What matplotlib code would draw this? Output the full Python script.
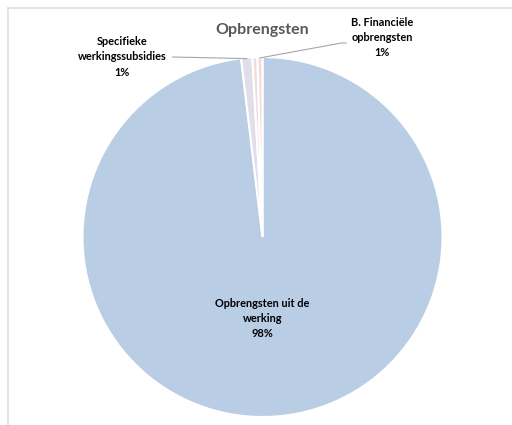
import numpy as np
import matplotlib
matplotlib.use("Agg")
import matplotlib.pyplot as plt
from matplotlib.lines import Line2D

TITLE = "Opbrengsten"
CATEGORIES = [
    "Opbrengsten uit de\nwerking",
    "Specifieke\nwerkingssubsidies",
    "Overige",
    "B. Financiële\nopbrengsten",
]
VALUES = [98.1, 1.0, 0.45, 0.45]
PCT_LABELS = ["98%", "1%", "", "1%"]
COLORS = ["#B9CDE5", "#E1DDEB", "#F2DCDB", "#F2DCDB"]

W, H = 512, 425
plt.rcParams["font.family"] = ["Lato", "DejaVu Sans"]

fig = plt.figure(figsize=(W / 100, H / 100), dpi=100)

# chart area border (only left and top visible)
fig.add_artist(Line2D([8 / W, 8 / W], [0, 1 - 8 / H], color="#E0E0E0", lw=1.2))
fig.add_artist(Line2D([8 / W, 1], [1 - 8 / H, 1 - 8 / H], color="#E0E0E0", lw=1.2))

cx, cy, r = 262.5, 237, 180
ax = fig.add_axes([(cx - r) / W, (H - cy - r) / H, 2 * r / W, 2 * r / H])
wedges, _ = ax.pie(
    VALUES,
    colors=COLORS,
    startangle=90,
    counterclock=False,
    radius=1,
    wedgeprops=dict(edgecolor="white", linewidth=1.5),
)
ax.set_xlim(-1, 1)
ax.set_ylim(-1, 1)
ax.set_aspect("equal")
ax.axis("off")


def edge_point(w, rad=1.0):
    ang = np.deg2rad((w.theta1 + w.theta2) / 2)
    return rad * np.cos(ang), rad * np.sin(ang)


fs = 7.9
ls = 1.45
# main slice label
ax.text(0, -0.455, f"{CATEGORIES[0]}\n{PCT_LABELS[0]}", ha="center", va="center",
        fontsize=fs, fontweight="bold", color="black", linespacing=ls)

# Specifieke werkingssubsidies
ax.text(-0.78, 1.0, f"{CATEGORIES[1]}\n{PCT_LABELS[1]}", ha="center", va="center",
        fontsize=fs, fontweight="bold", color="black", linespacing=ls, clip_on=False)
ex, ey = edge_point(wedges[1], 0.995)
ax.plot([-0.50, ex], [1.0, ey], color="#A6A6A6", lw=0.8, clip_on=False)

# B. Financiële opbrengsten
ax.text(0.665, 1.11, f"{CATEGORIES[3]}\n{PCT_LABELS[3]}", ha="center", va="center",
        fontsize=fs, fontweight="bold", color="black", linespacing=ls, clip_on=False)
ex, ey = edge_point(wedges[3], 0.995)
ax.plot([0.465, 0.44, ex], [1.078, 1.078, ey], color="#A6A6A6", lw=0.8, clip_on=False)

fig.text(262 / W, 1 - 30 / H, TITLE, ha="center", va="center", fontsize=11.5,
         fontweight="bold", color="#595959")

fig.savefig("out.png", dpi=100)
